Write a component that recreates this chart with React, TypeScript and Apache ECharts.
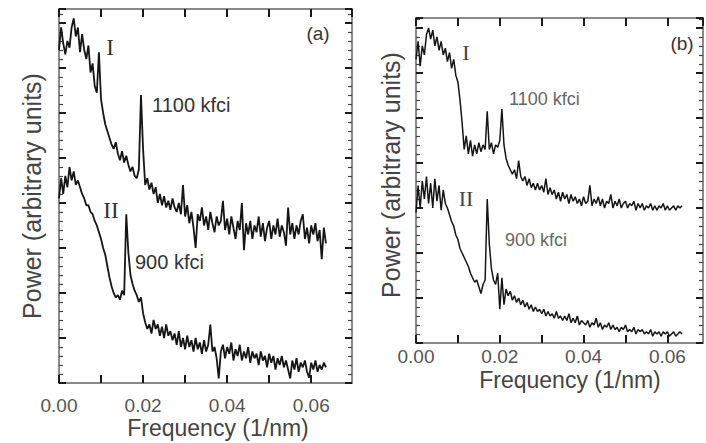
import React, { useEffect, useRef } from "react";
import * as echarts from "echarts";

// Frequency grid (1/nm), shared by all four spectra
const freqs = [
  0, 0.0005, 0.001, 0.0015, 0.002, 0.0025, 0.003, 0.0035, 0.004, 0.0045,
  0.005, 0.0055, 0.006, 0.0065, 0.007, 0.0075, 0.008, 0.0085, 0.009, 0.0095,
  0.01, 0.0105, 0.011, 0.0115, 0.012, 0.0125, 0.013, 0.0135, 0.014, 0.0145,
  0.015, 0.0155, 0.016, 0.0165, 0.017, 0.0175, 0.018, 0.0185, 0.019, 0.0195,
  0.02, 0.0205, 0.021, 0.0215, 0.022, 0.0225, 0.023, 0.0235, 0.024, 0.0245,
  0.025, 0.0255, 0.026, 0.0265, 0.027, 0.0275, 0.028, 0.0285, 0.029, 0.0295,
  0.03, 0.0305, 0.031, 0.0315, 0.032, 0.0325, 0.033, 0.0335, 0.034, 0.0345,
  0.035, 0.0355, 0.036, 0.0365, 0.037, 0.0375, 0.038, 0.0385, 0.039, 0.0395,
  0.04, 0.0405, 0.041, 0.0415, 0.042, 0.0425, 0.043, 0.0435, 0.044, 0.0445,
  0.045, 0.0455, 0.046, 0.0465, 0.047, 0.0475, 0.048, 0.0485, 0.049, 0.0495,
  0.05, 0.0505, 0.051, 0.0515, 0.052, 0.0525, 0.053, 0.0535, 0.054, 0.0545,
  0.055, 0.0555, 0.056, 0.0565, 0.057, 0.0575, 0.058, 0.0585, 0.059, 0.0595,
  0.06, 0.0605, 0.061, 0.0615, 0.062, 0.0625, 0.063, 0.0635,
];

// Panel (a), spectrum I (1100 kfci), arbitrary offset units
const aI = [
  7.4, 7.9, 7.55, 7.3, 7.6, 7.45, 7.9, 8.1, 7.7, 7.9,
  7.35, 7.75, 7.4, 7.2, 7.5, 6.9, 7.1, 6.6, 6.45, 7.35,
  6.3, 6.0, 5.75, 5.6, 5.45, 5.3, 5.2, 5.35, 5.1, 4.95,
  5.15, 4.9, 5.05, 4.85, 4.7, 4.8, 4.6, 4.55, 4.75, 6.4,
  5.2, 4.4, 4.55, 4.3, 4.45, 4.2, 4.35, 4.0, 4.2, 3.95,
  4.15, 3.9, 4.05, 3.85, 4.1, 3.9, 3.8, 4.0, 3.75, 4.4,
  3.7, 3.95, 3.55, 3.8, 3.45, 3.0, 3.75, 3.6, 3.9, 3.5,
  3.7, 3.4, 3.8, 3.55, 3.35, 3.7, 3.5, 3.6, 4.05, 3.4,
  3.65, 3.3, 3.7, 3.45, 3.2, 3.6, 3.4, 4.0, 2.95, 3.55,
  3.3, 3.6, 3.2, 3.5, 3.35, 3.7, 3.25, 3.55, 3.15, 3.45,
  3.6, 3.2, 3.5, 3.3, 3.65, 3.25, 3.5, 3.35, 3.05, 3.9,
  3.3, 3.55, 3.2, 3.5, 3.3, 3.6, 3.75, 3.2, 3.45, 3.1,
  3.5, 3.3, 3.55, 3.15, 3.4, 2.75, 3.45, 3.1,
];

// Panel (a), spectrum II (900 kfci)
const aII = [
  4.1, 4.55, 4.2, 4.6, 4.35, 4.8, 4.5, 4.7, 4.4, 4.5,
  4.35, 4.2, 4.1, 3.95, 3.95, 3.8, 3.75, 3.6, 3.5, 3.35,
  3.2, 3.0, 2.85, 2.6, 2.35, 2.15, 2.0, 1.9, 1.95, 1.85,
  2.05, 1.95, 3.75, 2.9, 2.4, 2.2, 2.05, 1.95, 1.8, 1.9,
  1.55, 1.35, 1.2, 1.3, 1.1, 1.4, 1.2, 1.3, 1.05, 1.25,
  1.0, 1.3, 1.05, 1.15, 0.95, 1.1, 0.85, 1.15, 0.8, 1.0,
  0.75, 1.05, 0.8, 0.95, 0.7, 1.0, 0.75, 0.9, 0.65, 0.95,
  0.7, 0.85, 1.3, 0.7, 0.8, 0.55, 0.1, 0.7, 0.85, 0.55,
  0.8, 0.65, 0.9, 0.5, 0.75, 0.6, 0.85, 0.5, 0.7, 0.55,
  0.8, 0.45, 0.7, 0.55, 0.65, 0.4, 0.7, 0.5, 0.6, 0.35,
  0.65, 0.45, 0.6, 0.3, 0.55, 0.4, 0.6, 0.35, 0.5, 0.3,
  0.1, 0.5, 0.3, 0.55, 0.25, 0.45, 0.35, 0.5, 0.25, 0.12,
  0.45, 0.3, 0.5, 0.25, 0.4, 0.3, 0.45, 0.35,
];

// Panel (b), spectrum I (1100 kfci)
const bI = [
  6.3, 6.7, 6.15, 6.6, 6.4, 6.85, 7.0, 6.75, 6.95, 6.6,
  6.8, 6.5, 6.7, 6.4, 6.55, 6.25, 6.45, 6.1, 6.3, 5.95,
  5.8, 5.4, 4.9, 4.3, 4.6, 4.2, 4.5, 4.15, 4.4, 4.2,
  4.45, 4.25, 4.4, 4.3, 5.15, 4.3, 4.45, 4.2, 4.4, 4.35,
  4.5, 5.2, 4.4, 4.1, 3.95, 3.85, 3.75, 3.85, 3.65, 4.05,
  3.7, 3.6, 3.7, 3.5, 3.65, 3.45, 3.55, 3.4, 3.55, 3.4,
  3.5, 3.35, 3.65, 3.3, 3.45, 3.3, 3.4, 3.2, 3.35, 3.15,
  3.35, 3.2, 3.3, 3.1, 3.3, 3.15, 3.25, 3.1, 3.2, 3.05,
  3.25, 3.1, 3.15, 3.5, 3.05, 3.2, 3.1, 3.25, 3.05, 3.2,
  3.0, 3.15, 3.1, 3.3, 3.0, 3.15, 3.05, 3.2, 3.0, 3.1,
  3.15, 3.0, 3.1, 3.05, 3.15, 2.95, 3.1, 3.0, 3.1, 2.95,
  3.05, 3.0, 3.1, 2.95, 3.05, 2.95, 3.05, 3.0, 3.1, 2.95,
  3.05, 2.95, 3.0, 3.05, 2.95, 3.05, 3.0, 3.05,
];

// Panel (b), spectrum II (900 kfci)
const bII = [
  2.9, 3.5, 3.0, 3.6, 3.2, 3.7, 3.1, 3.55, 3.0, 3.65,
  3.15, 3.5, 2.95, 3.4, 3.1, 3.0, 2.85, 2.7, 2.6, 2.4,
  2.3, 2.1, 2.0, 1.9, 1.8, 1.7, 1.55, 1.45, 1.35, 1.4,
  1.25, 1.1, 1.3, 1.4, 3.2, 2.2, 1.65, 1.4, 1.3, 1.55,
  0.75, 1.45, 0.85, 1.2, 1.05, 1.15, 0.95, 1.05, 0.9, 1.0,
  0.85, 0.95, 0.8, 0.9, 0.75, 0.85, 0.7, 0.8, 0.7, 0.75,
  0.65, 0.75, 0.6, 0.7, 0.6, 0.65, 0.55, 0.7, 0.55, 0.6,
  0.5, 0.6, 0.5, 0.65, 0.45, 0.55, 0.45, 0.6, 0.4, 0.5,
  0.45, 0.4, 0.5, 0.35, 0.45, 0.4, 0.55, 0.35, 0.45, 0.3,
  0.4, 0.35, 0.45, 0.3, 0.4, 0.3, 0.35, 0.25, 0.35, 0.3,
  0.4, 0.25, 0.3, 0.25, 0.35, 0.2, 0.3, 0.25, 0.3, 0.2,
  0.25, 0.2, 0.3, 0.15, 0.25, 0.2, 0.25, 0.15, 0.25, 0.2,
  0.25, 0.15, 0.2, 0.25, 0.15, 0.2, 0.25, 0.2,
];

// Frequency tick positions on the top and bottom frame lines
const xTickValues = [0.01, 0.02, 0.03, 0.04, 0.05, 0.06];

const xTitle = "Frequency (1/nm)";
const yTitle = "Power (arbitrary units)";

const FONT = "'Liberation Sans', Arial, Helvetica, sans-serif";
const SERIF = "'Liberation Serif', 'Times New Roman', serif";

export default function App() {
  const ref = useRef<HTMLDivElement>(null);

  useEffect(() => {
    if (!ref.current) return;
    const chart = echarts.init(ref.current, null, { renderer: "svg" });

    const mkLine = () => ({ show: true, onZero: false, lineStyle: { color: "#8a8a8a", width: 2 } });
    const mkTick = () => ({ color: "#1a1a1a", width: 2 });

    const xLabelFmt = (v: number) => {
      const k = v * 100;
      const r = Math.round(k);
      if (Math.abs(k - r) > 1e-6 || r % 2 !== 0) return "";
      return v.toFixed(2);
    };

    const makeX = (grid: number, max: number, pos: "bottom" | "top", margin: number) => ({
      type: "value",
      gridIndex: grid,
      position: pos,
      min: 0,
      max,
      interval: 0.01,
      axisLine: mkLine(),
      splitLine: { show: false },
      axisTick: { show: true, inside: true, length: 8, lineStyle: mkTick() },
      axisLabel:
        pos === "bottom"
          ? {
              show: true,
              showMaxLabel: false,
              formatter: xLabelFmt,
              fontSize: 19,
              fontFamily: FONT,
              color: "#555",
              margin,
            }
          : { show: false },
    });

    const makeY = (grid: number, max: number, pos: "left" | "right") => ({
      type: "value",
      gridIndex: grid,
      position: pos,
      min: 0,
      max,
      interval: 1,
      axisLine: mkLine(),
      splitLine: { show: false },
      axisTick: { show: true, inside: true, length: 7, lineStyle: mkTick() },
      minorTick: { show: true, splitNumber: 5, length: 4, lineStyle: { color: "#444", width: 1.2 } },
      axisLabel: { show: false },
    });

    // Short inward frequency ticks on the top and bottom frame, in axis units (45 px per unit)
    const frameTicks = (ymax: number) => {
      const len = 7 / 45;
      const segs: any[] = [];
      xTickValues.forEach((t) => {
        segs.push([{ coord: [t, 0] }, { coord: [t, len] }]);
        segs.push([{ coord: [t, ymax] }, { coord: [t, ymax - len] }]);
      });
      return {
        silent: true,
        animation: false,
        symbol: ["none", "none"],
        label: { show: false },
        emphasis: { disabled: true },
        lineStyle: { color: "#1a1a1a", width: 2, type: "solid" },
        data: segs,
      };
    };

    const lineSeries = (vals: number[], xi: number, yi: number, w: number, ticksMax?: number) => {
      const s: any = {
        type: "line",
        xAxisIndex: xi,
        yAxisIndex: yi,
        data: freqs.map((f, i) => [f, vals[i]]),
        showSymbol: false,
        symbol: "none",
        clip: true,
        lineStyle: { color: "#151515", width: w },
      };
      if (ticksMax !== undefined) s.markLine = frameTicks(ticksMax);
      return s;
    };

    const txt = (x: number, y: number, text: string, size: number, opts: any = {}) => ({
      type: "text",
      x,
      y,
      rotation: opts.rotation || 0,
      style: {
        text,
        fontSize: size,
        fontFamily: opts.family || FONT,
        fill: opts.fill || "#444",
        align: opts.align || "center",
        verticalAlign: "middle",
      },
    });

    chart.setOption({
      animation: false,
      backgroundColor: "#ffffff",
      grid: [
        { left: 59, top: 9, width: 293, height: 374 },
        { left: 416, top: 18, width: 287, height: 325 },
      ],
      xAxis: [
        makeX(0, 0.0697, "bottom", 13),
        makeX(0, 0.0697, "top", 0),
        makeX(1, 0.0685, "bottom", 4),
        makeX(1, 0.0685, "top", 0),
      ],
      yAxis: [
        makeY(0, 8.31, "left"),
        makeY(0, 8.31, "right"),
        makeY(1, 7.22, "left"),
        makeY(1, 7.22, "right"),
      ],
      series: [
        lineSeries(aI, 0, 0, 1.8, 8.31),
        lineSeries(aII, 0, 0, 1.8),
        lineSeries(bI, 2, 2, 1.5, 7.22),
        lineSeries(bII, 2, 2, 1.5),
      ],
      graphic: [
        txt(218, 428, xTitle, 23),
        txt(32, 196, yTitle, 25, { rotation: Math.PI / 2 }),
        txt(570, 380, xTitle, 23),
        txt(391, 175, yTitle, 25, { rotation: Math.PI / 2 }),
        txt(110, 47, "I", 23, { family: SERIF, fill: "#333" }),
        txt(111, 210, "II", 23, { family: SERIF, fill: "#333" }),
        txt(152, 105, "1100 kfci", 20, { align: "left", fill: "#333" }),
        txt(135, 262, "900 kfci", 20, { align: "left", fill: "#333" }),
        txt(318, 33, "(a)", 19, { fill: "#333" }),
        txt(466, 52, "I", 22, { family: SERIF, fill: "#444" }),
        txt(466, 198, "II", 22, { family: SERIF, fill: "#444" }),
        txt(509, 99, "1100 kfci", 18, { align: "left", fill: "#666" }),
        txt(505, 240, "900 kfci", 18, { align: "left", fill: "#666" }),
        txt(682, 43, "(b)", 19, { fill: "#333" }),
      ],
    });

    return () => chart.dispose();
  }, []);

  return (
    <div
      ref={ref}
      style={{ position: "fixed", left: 0, top: 0, width: 706, height: 443, background: "#fff" }}
    />
  );
}
